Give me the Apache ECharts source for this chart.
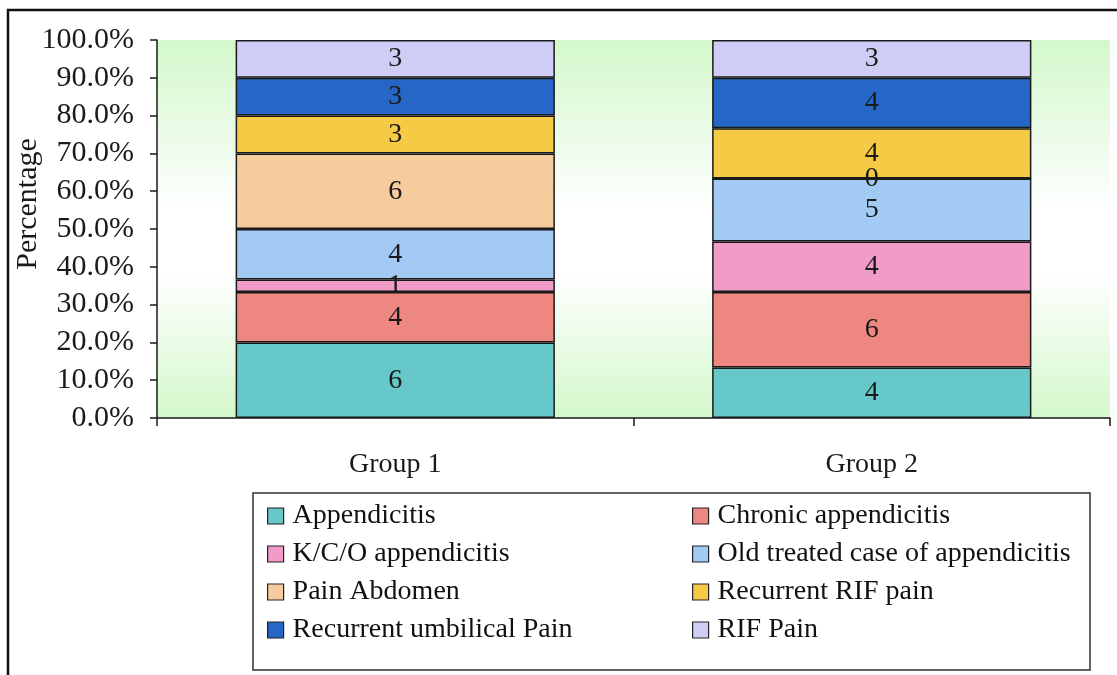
<!DOCTYPE html>
<html>
<head>
<meta charset="utf-8">
<script src="https://cdn.jsdelivr.net/npm/echarts@6/dist/echarts.min.js"></script>
<style>
  html, body { margin: 0; padding: 0; background: #fff; }
  #chart { width: 1117px; height: 675px; }
</style>
</head>
<body>
<div id="chart"></div>
<script>
// Groups on the x axis
const groups = ['Group 1', 'Group 2'];

// Case counts per diagnosis, one entry per group
const appendicitis        = [6, 4];
const chronicAppendicitis = [4, 6];
const kcoAppendicitis     = [1, 4];
const oldTreatedCase      = [4, 5];
const painAbdomen         = [6, 0];
const recurrentRifPain    = [3, 4];
const recurrentUmbilical  = [3, 4];
const rifPain             = [3, 3];

// Y axis ticks (percent)
const yTicks = [0, 10, 20, 30, 40, 50, 60, 70, 80, 90, 100];

const seriesDefs = [
  { name: 'Appendicitis', data: appendicitis, color: '#66c8c8' },
  { name: 'Chronic appendicitis', data: chronicAppendicitis, color: '#ef8781' },
  { name: 'K/C/O appendicitis', data: kcoAppendicitis, color: '#f09bc8' },
  { name: 'Old treated case of appendicitis', data: oldTreatedCase, color: '#a2caf5' },
  { name: 'Pain Abdomen', data: painAbdomen, color: '#f6cc9e' },
  { name: 'Recurrent RIF pain', data: recurrentRifPain, color: '#f5ca44' },
  { name: 'Recurrent umbilical Pain', data: recurrentUmbilical, color: '#2566c6' },
  { name: 'RIF Pain', data: rifPain, color: '#cecdf6' }
];

// Totals per group, used to turn counts into shares of 100%
const totals = groups.map((_, i) => seriesDefs.reduce((s, d) => s + d.data[i], 0));

const FONT = "'Liberation Serif', 'Times New Roman', serif";

const series = seriesDefs.map(d => ({
  name: d.name,
  type: 'bar',
  stack: 'share',
  barWidth: '67%',
  itemStyle: { color: d.color, borderColor: '#1a1a1a', borderWidth: 1.5 },
  label: {
    show: true,
    position: 'inside',
    fontFamily: FONT,
    fontSize: 28,
    color: '#1a1a1a',
    formatter: p => String(d.data[p.dataIndex])
  },
  data: d.data.map((v, i) => v / totals[i] * 100)
}));

const legendText = { fontFamily: FONT, fontSize: 28, color: '#111', padding: [0, 0, 0, 4] };
const legendCommon = {
  orient: 'vertical',
  icon: 'rect',
  itemWidth: 16,
  itemHeight: 16,
  itemGap: 10,
  textStyle: legendText,
  itemStyle: { borderColor: '#222', borderWidth: 1.2 },
  selectedMode: false
};

const chart = echarts.init(document.getElementById('chart'), null, { renderer: 'canvas' });
chart.setOption({
  animation: false,
  backgroundColor: '#ffffff',
  grid: {
    left: 157, right: 7, top: 40, bottom: 257,
    show: true,
    borderWidth: 0,
    backgroundColor: new echarts.graphic.LinearGradient(0, 0, 0, 1, [
      { offset: 0, color: '#d3f8cb' },
      { offset: 0.45, color: '#ffffff' },
      { offset: 0.62, color: '#ffffff' },
      { offset: 1, color: '#d3f8cb' }
    ])
  },
  xAxis: {
    type: 'category',
    data: groups,
    axisLine: { lineStyle: { color: '#1a1a1a', width: 1.5 } },
    axisTick: { show: true, length: 8, lineStyle: { color: '#1a1a1a', width: 1.5 } },
    axisLabel: { margin: 33, fontFamily: FONT, fontSize: 28, color: '#1a1a1a' }
  },
  yAxis: {
    type: 'value',
    min: yTicks[0],
    max: yTicks[yTicks.length - 1],
    interval: yTicks[1] - yTicks[0],
    splitLine: { show: false },
    axisLine: { show: true, lineStyle: { color: '#1a1a1a', width: 1.5 } },
    axisTick: { show: true, length: 7, lineStyle: { color: '#1a1a1a', width: 1.5 } },
    axisLabel: {
      margin: 23,
      fontFamily: FONT,
      fontSize: 30,
      color: '#1a1a1a',
      formatter: v => v.toFixed(1) + '%'
    }
  },
  legend: [
    Object.assign({}, legendCommon, {
      left: 262, top: 497,
      data: ['Appendicitis', 'K/C/O appendicitis', 'Pain Abdomen', 'Recurrent umbilical Pain']
    }),
    Object.assign({}, legendCommon, {
      left: 687, top: 497,
      data: ['Chronic appendicitis', 'Old treated case of appendicitis', 'Recurrent RIF pain', 'RIF Pain']
    })
  ],
  graphic: [
    {
      type: 'rect',
      shape: { x: 253, y: 493, width: 837, height: 177 },
      style: { fill: 'none', stroke: '#333', lineWidth: 1.5 },
      z: 0
    },
    {
      type: 'polyline',
      shape: { points: [[8, 675], [8, 10], [1117, 10]] },
      style: { fill: 'none', stroke: '#111', lineWidth: 2.5 }
    },
    {
      type: 'text',
      x: 28,
      y: 204,
      rotation: Math.PI / 2,
      style: {
        text: 'Percentage',
        fontFamily: FONT,
        fontSize: 30,
        fill: '#1a1a1a',
        align: 'center',
        verticalAlign: 'middle'
      }
    }
  ],
  series: series
});
</script>
</body>
</html>
